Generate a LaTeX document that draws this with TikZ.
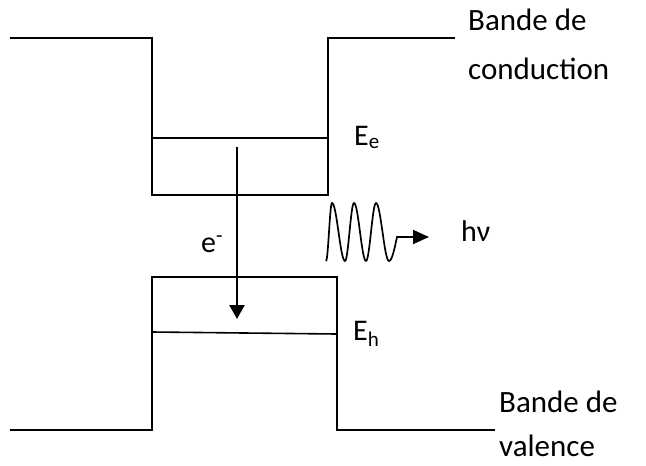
\documentclass[tikz,border=0pt]{standalone}
\usepackage{fontspec}
\setmainfont{Carlito}
\usepackage{tikz}
\usetikzlibrary{arrows.meta}
\definecolor{bandK}{RGB}{0,0,0}

\begin{document}
\begin{tikzpicture}[x=1pt, y=-1pt, line join=miter,
    band/.style={line width=1.8pt, bandK},
    lvl/.style={line width=1.6pt, bandK},
    lbl/.style={font=\fontsize{30}{36}\selectfont, inner sep=0pt},
    bname/.style={font=\fontsize{31}{36}\selectfont, inner sep=0pt, anchor=base west}]
  \useasboundingbox (0,0) rectangle (646,466);
  % conduction band: barrier, well, barrier
  \draw[band] (10,38) -- (152,38) -- (152,195) -- (328,195) -- (328,38) -- (455,38);
  % valence band: barrier, well, barrier
  \draw[band] (10,430) -- (152,430) -- (152,277) -- (337,277) -- (337,430) -- (495,430);
  % confined levels E_e and E_h
  \draw[lvl] (152,138) -- (328,138);
  \draw[lvl] (152,332) -- (336,334);
  \node[lbl, anchor=base west] (Ee) at (354,145) {E\textsubscript{e}};
  \node[lbl, anchor=base west] (Eh) at (353,340) {E\textsubscript{h}};
  % electron drops from E_e to E_h
  \coordinate (eTop) at (237,147);
  \coordinate (eBot) at (237,319);
  \draw[line width=2.3pt, -{Triangle[length=14pt,width=15pt]}] (eTop) -- (eBot);
  \node[lbl, anchor=base west] (elec) at (201,252) {e\textsuperscript{-}};
  % emitted photon
  \coordinate (phEnd) at (429,237);
  \draw[line width=1.7pt, -{Triangle[length=16pt,width=14pt]}]
    (326,261) cos (329,232) sin (332,203) cos (338.5,232) sin (345,261)
    cos (349.5,232) sin (354,203) cos (360,232) sin (366,261)
    cos (371,232) sin (376,203) cos (382.5,232) sin (389,261)
    cos (397,237) -- (phEnd);
  \node[lbl, anchor=base west] (hnu) at (461,241) {hν};
  % band names
  \node[bname] (cb1) at (468,30) {Bande de};
  \node[bname] (cb2) at (468,79) {conduction};
  \node[bname] (vb1) at (499,412) {Bande de};
  \node[bname] (vb2) at (499,456) {valence};
\end{tikzpicture}
\end{document}
